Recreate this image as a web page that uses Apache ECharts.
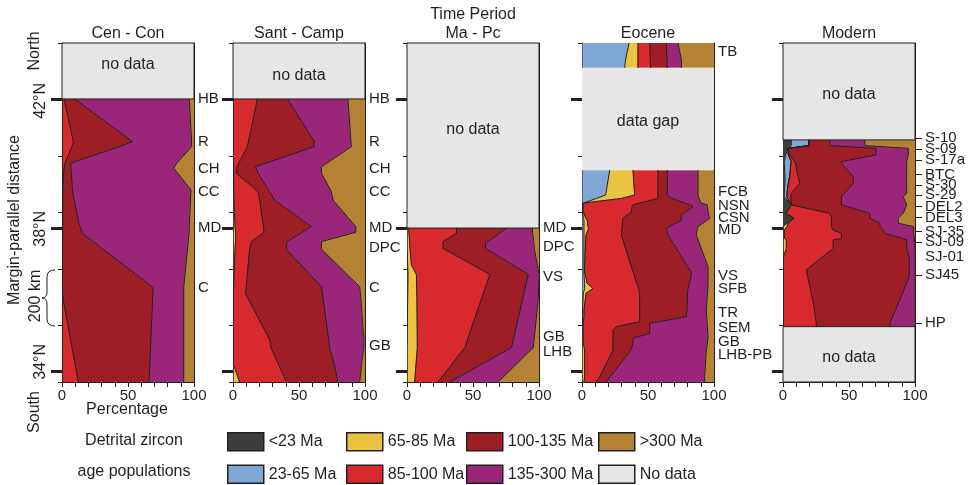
<!DOCTYPE html>
<html>
<head>
<meta charset="utf-8">
<title>Detrital zircon age populations along the margin</title>
<script src="https://cdn.jsdelivr.net/npm/echarts@6/dist/echarts.min.js"></script>
<style>
  html, body { margin: 0; padding: 0; background: #ffffff; }
  #chart { width: 969px; height: 485px; }
</style>
</head>
<body>
<div id="chart"></div>
<script>
// Age populations, youngest first, and their fill colours.
const populations = ['<23 Ma', '23-65 Ma', '65-85 Ma', '85-100 Ma', '100-135 Ma', '135-300 Ma', '>300 Ma'];
const populationColors = ['#3d3d3d', '#7fa8d5', '#ebc343', '#d8292e', '#9d1e25', '#9a2679', '#b38234'];
const noDataColor = '#e6e6e6';

// Each row: [margin-parallel distance (km, from the south end),
//            cumulative % at the right edge of <23, 23-65, 65-85, 85-100, 100-135, 135-300 Ma].
// The >300 Ma band fills the rest up to 100 %.
const cenConRows = [
  [1002, 0, 0, 0, 1.5, 9.6, 96.4],
  [851, 0, 0, 0, 8.6, 53.4, 98.2],
  [833, 0, 0, 0, 7.5, 43.3, 98.2],
  [775, 0, 0, 0, 2.3, 6.6, 87.0],
  [757, 0, 0, 0, 1.5, 6.8, 84.6],
  [680, 0, 0, 0, 0.5, 7.9, 97.7],
  [656, 0, 0, 0, 0.5, 8.6, 97.5],
  [562, 0, 0, 0, 0.5, 12.9, 96.5],
  [528, 0, 0, 0, 0.5, 15.0, 96.3],
  [334, 0, 0, 0, 0, 69.1, 92.2],
  [315, 0, 0, 0, 0, 68.8, 92.2],
  [0, 0, 0, 0, 12.4, 66.0, 92.2]
];

const santCampRows = [
  [1002, 0, 0, 0, 18.5, 41.2, 87.1],
  [853, 0, 0, 0, 11.8, 61.4, 89.3],
  [833, 0, 0, 0, 10.9, 61.4, 89.7],
  [762, 0, 0, 0, 3.0, 17.0, 67.0],
  [739, 0, 0, 0.5, 2.5, 19.0, 67.0],
  [674, 0, 0, 0.5, 19.0, 27.6, 74.5],
  [644, 0, 0, 0.8, 20.2, 31.6, 75.8],
  [550, 0, 0, 1.5, 23.0, 59.4, 93.0],
  [530, 0, 0, 2.0, 23.5, 52.6, 93.0],
  [497, 0, 0, 2.0, 13.9, 41.0, 67.0],
  [470, 0, 0, 1.5, 12.6, 40.4, 67.0],
  [337, 0, 0, 0.5, 10.0, 67.0, 96.0],
  [314, 0, 0, 0, 9.4, 67.7, 96.5],
  [149, 0, 0, 0, 27.8, 72.5, 99.2],
  [119, 0, 0, 0, 29.0, 73.2, 99.0],
  [67, 0, 0, 0, 34.0, 76.5, 97.5],
  [0, 0, 0, 5.0, 40.4, 79.5, 96.0]
];

const maPcRows = [
  [545, 0, 0, 1.3, 37.5, 75.4, 94.9],
  [526, 0, 0, 1.5, 37.5, 70.1, 95.2],
  [497, 0, 0, 2.0, 27.3, 61.3, 96.0],
  [491, 0, 0, 2.0, 27.3, 59.5, 96.0],
  [473, 0, 0, 2.3, 27.3, 59.5, 96.5],
  [414, 0, 0.5, 3.3, 50.1, 80.3, 98.7],
  [381, 0, 0.8, 7.1, 62.8, 91.9, 100],
  [296, 0, 0.5, 7.5, 56.5, 87.7, 99.5],
  [122, 0, 0, 7.8, 43.8, 79.2, 95.7],
  [0, 0, 0, 5.8, 23.5, 32.4, 69.1]
];

// Eocene: a short northern stretch (TB) above the data gap, then the main record.
const eoceneNorthRows = [
  [1200, 0, 35.6, 42.4, 51.3, 63.9, 72.7],
  [1140, 0, 33.0, 42.4, 51.8, 64.3, 75.3],
  [1112, 0, 32.3, 42.4, 52.0, 64.6, 75.3]
];

const eoceneRows = [
  [750, 0, 21.0, 38.6, 57.6, 64.6, 87.9],
  [662, 0, 17.9, 39.9, 57.6, 64.6, 87.9],
  [650, 0, 11.0, 30.0, 57.6, 68.0, 88.5],
  [633, 0, 0.8, 0.8, 43.4, 78.3, 90.4],
  [627, 0, 0.5, 0.8, 38.6, 81.6, 94.9],
  [621, 0, 0.5, 0.8, 38.0, 84.1, 95.1],
  [603, 0, 0.5, 1.0, 37.4, 78.8, 95.5],
  [591, 0, 0.8, 2.0, 34.2, 75.3, 96.0],
  [579, 0, 1.0, 3.0, 31.1, 75.3, 96.7],
  [573, 0, 1.5, 4.0, 30.8, 75.3, 95.0],
  [550, 0, 1.5, 4.5, 30.3, 66.2, 87.9],
  [544, 0, 1.5, 5.0, 30.2, 63.9, 87.5],
  [520, 0, 1.5, 3.0, 29.8, 65.2, 86.6],
  [408, 0, 1.5, 2.0, 37.4, 80.0, 95.5],
  [390, 0, 1.5, 2.0, 38.6, 82.5, 95.5],
  [379, 0, 1.5, 2.5, 39.5, 82.8, 95.5],
  [349, 0, 2.0, 4.0, 41.5, 81.5, 95.5],
  [331, 0, 2.0, 8.3, 43.0, 80.3, 95.3],
  [314, 0, 1.0, 3.0, 43.7, 80.0, 95.0],
  [255, 0, 0.5, 1.5, 43.7, 79.5, 94.2],
  [231, 0, 0.5, 1.5, 43.7, 79.0, 94.5],
  [213, 0, 0.5, 1.0, 43.7, 58.0, 94.8],
  [208, 0, 0.5, 1.0, 37.8, 51.3, 94.8],
  [196, 0, 0, 1.0, 26.0, 51.3, 95.0],
  [184, 0, 0, 1.0, 23.5, 51.3, 95.2],
  [172, 0, 0, 1.0, 23.5, 51.3, 95.4],
  [155, 0, 0, 1.0, 23.5, 38.6, 95.5],
  [137, 0, 0, 1.0, 23.5, 38.6, 95.0],
  [113, 0, 0, 2.0, 23.5, 37.1, 94.2],
  [19, 0, 0, 2.0, 13.5, 21.4, 92.9],
  [0, 0, 0, 1.5, 10.9, 18.4, 92.9]
];

const modernRows = [
  [857, 6.3, 19.7, 19.7, 19.7, 35.4, 62.0],
  [837, 6.3, 19.7, 19.7, 19.7, 35.4, 62.0],
  [827, 3.8, 3.8, 3.8, 3.8, 70.4, 94.9],
  [804, 2.0, 4.0, 4.0, 5.0, 70.4, 94.9],
  [780, 1.0, 6.3, 6.3, 8.9, 44.3, 93.7],
  [774, 1.0, 6.0, 6.0, 9.5, 44.3, 93.7],
  [727, 1.5, 5.0, 5.0, 11.4, 53.2, 93.7],
  [703, 1.5, 4.0, 4.0, 12.7, 53.2, 93.7],
  [668, 1.0, 3.0, 3.0, 6.3, 46.6, 93.7],
  [656, 1.0, 3.0, 3.0, 6.0, 44.3, 91.1],
  [627, 6.3, 6.3, 6.3, 6.3, 44.3, 93.7],
  [597, 2.0, 2.0, 2.0, 35.4, 65.8, 91.1],
  [580, 8.0, 8.0, 8.0, 36.7, 65.8, 87.3],
  [562, 3.0, 3.0, 4.0, 36.7, 73.4, 87.3],
  [550, 0, 0, 3.0, 36.7, 73.4, 99.0],
  [538, 0, 0, 1.0, 38.0, 75.9, 99.0],
  [526, 0, 0, 1.0, 44.3, 77.2, 99.0],
  [509, 0, 0, 1.0, 44.3, 90.0, 99.5],
  [503, 0, 0, 2.5, 38.0, 93.7, 99.5],
  [473, 0, 0, 2.5, 38.0, 93.7, 100],
  [438, 0, 0, 0, 28.6, 95.7, 100],
  [397, 0, 0, 0, 17.7, 95.7, 100],
  [373, 0, 0, 0, 18.7, 95.7, 100],
  [284, 0, 0, 0, 22.8, 87.8, 100],
  [208, 0, 0, 0, 25.3, 81.0, 100],
  [196, 0, 0, 0, 25.3, 81.0, 100]
];

// Stretches without samples: [from km, to km, caption position km, caption].
const cenConGaps = [[1002, 1200, 1122, 'no data']];
const santCampGaps = [[1002, 1200, 1083, 'no data']];
const maPcGaps = [[545, 1200, 892, 'no data']];
const eoceneGaps = [[750, 1112, 922, 'data gap']];
const modernGaps = [[857, 1200, 1016, 'no data'], [0, 196, 88, 'no data']];

// Sample localities written at the right edge of each column.
const cenConSites = ['HB', 'R', 'CH', 'CC', 'MD', 'C'];
const cenConSiteKm = [1002, 851, 754, 672, 546, 332];
const santCampSites = ['HB', 'R', 'CH', 'CC', 'MD', 'DPC', 'C', 'GB'];
const santCampSiteKm = [1002, 851, 754, 672, 546, 475, 332, 128];
const maPcSites = ['MD', 'DPC', 'VS', 'GB', 'LHB'];
const maPcSiteKm = [544, 477, 373, 160, 105];
const eoceneSites = ['TB', 'FCB', 'NSN', 'CSN', 'MD', 'VS', 'SFB', 'TR', 'SEM', 'GB', 'LHB-PB'];
const eoceneSiteKm = [1169, 674, 623, 580, 538, 375, 328, 243, 190, 143, 96];
const modernSites = ['S-10', 'S-09', 'S-17a', 'BTC', 'S-30', 'S-29', 'DEL2', 'DEL3', 'SJ-35', 'SJ-09', 'SJ-01', 'SJ45', 'HP'];
const modernSiteKm = [863, 825, 786, 735, 697, 662, 621, 582, 532, 495, 444, 379, 208];

const panelTitles = ['Cen - Con', 'Sant - Camp', 'Time Period\nMa - Pc', 'Eocene', 'Modern'];

// Latitude marks on the distance axis.
const latitudeKm = [39, 545, 1002];
const latitudeNames = ['34°N', '38°N', '42°N'];
const latitudeLabelKm = [71, 542, 995];

const distanceTicksKm = 200;
const distanceMaxKm = 1200;
const percentTicks = [0, 50, 100];

const FONT = 'Liberation Sans, Arial, Helvetica, sans-serif';
const INK = '#231f20';

const panels = [
  { segments: [cenConRows], gaps: cenConGaps, sites: cenConSites, siteKm: cenConSiteKm, left: 62, outlineGaps: true },
  { segments: [santCampRows], gaps: santCampGaps, sites: santCampSites, siteKm: santCampSiteKm, left: 233, outlineGaps: true },
  { segments: [maPcRows], gaps: maPcGaps, sites: maPcSites, siteKm: maPcSiteKm, left: 407, outlineGaps: true },
  { segments: [eoceneNorthRows, eoceneRows], gaps: eoceneGaps, sites: eoceneSites, siteKm: eoceneSiteKm, left: 582, outlineGaps: false },
  { segments: [modernRows], gaps: modernGaps, sites: modernSites, siteKm: modernSiteKm, left: 783, outlineGaps: true, leaders: true }
];
const PANEL_W = 132, PANEL_TOP = 43, PANEL_H = 339;

const grids = [], xAxes = [], yAxes = [], series = [];

function lo(row, p) { return p === 0 ? 0 : row[p]; }
function hi(row, p) { return p === populations.length - 1 ? 100 : row[p + 1]; }

panels.forEach((panel, i) => {
  grids.push({ left: panel.left, top: PANEL_TOP, width: PANEL_W, height: PANEL_H });
  const xi = xAxes.length, yi = yAxes.length;

  xAxes.push({
    gridIndex: i, type: 'value', min: 0, max: 100, interval: 10, position: 'bottom',
    axisLine: { show: true, lineStyle: { color: INK, width: 1 } },
    axisTick: { show: true, length: 5, lineStyle: { color: INK, width: 1 } },
    axisLabel: {
      show: true, margin: 6, color: INK, fontSize: 15, fontFamily: FONT,
      formatter: v => (percentTicks.indexOf(v) >= 0 ? String(v) : '')
    },
    splitLine: { show: false }
  });
  xAxes.push({
    gridIndex: i, type: 'value', min: 0, max: 100, position: 'top',
    axisLine: { show: true, onZero: false, lineStyle: { color: INK, width: 1 } },
    axisTick: { show: false }, axisLabel: { show: false }, splitLine: { show: false }
  });

  // distance axis with thin ticks every 200 km
  yAxes.push({
    gridIndex: i, type: 'value', min: 0, max: distanceMaxKm, interval: distanceTicksKm, position: 'left',
    axisLine: { show: true, onZero: false, lineStyle: { color: INK, width: 1 } },
    axisTick: { show: true, length: 4, lineStyle: { color: INK, width: 1 } },
    axisLabel: { show: false }, splitLine: { show: false }
  });
  // heavy latitude ticks
  yAxes.push({
    gridIndex: i, type: 'value', min: 0, max: distanceMaxKm, position: 'left',
    axisLine: { show: false },
    axisTick: { show: true, length: 11, customValues: latitudeKm, lineStyle: { color: INK, width: 3 } },
    axisLabel: { show: false }, splitLine: { show: false }
  });
  // sample locality names on the right edge; the axis ends carry blank labels
  const sites = panel.sites, siteKm = panel.siteKm;
  yAxes.push({
    gridIndex: i, type: 'value', min: 0, max: distanceMaxKm, position: 'right',
    axisLine: { show: true, onZero: false, lineStyle: { color: INK, width: 1 } },
    axisTick: panel.leaders
      ? { show: true, length: 7, customValues: siteKm.filter((_, k) => sites[k] !== 'SJ-01'), lineStyle: { color: INK, width: 1 } }
      : { show: false },
    axisLabel: {
      show: true, customValues: [0].concat(siteKm.slice().reverse(), [distanceMaxKm]),
      margin: panel.leaders ? 10 : 4,
      showMinLabel: true, showMaxLabel: true, hideOverlap: false,
      color: INK, fontSize: 15, fontFamily: FONT, lineHeight: 15,
      formatter: v => { const k = siteKm.indexOf(v); return k >= 0 ? sites[k] : ''; }
    },
    splitLine: { show: false }
  });

  // coloured bands, one series per age population
  panel.segments.forEach(rows => {
    populations.forEach((name, p) => {
      const color = populationColors[p];
      series.push({
        type: 'custom', name, xAxisIndex: xi, yAxisIndex: yi, z: 2, silent: true,
        itemStyle: { color, borderColor: INK, borderWidth: 1 },
        data: [[0, 0]], encode: { x: 0, y: 1 }, clip: true,
        renderItem: (params, api) => {
          const right = rows.map(r => api.coord([hi(r, p), r[0]]));
          const left = rows.map(r => api.coord([lo(r, p), r[0]])).reverse();
          return {
            type: 'polygon',
            shape: { points: right.concat(left) },
            style: { fill: color, stroke: color, lineWidth: 0.6 }
          };
        }
      });
    });
    // dark boundary lines between the bands
    series.push({
      type: 'custom', name: 'boundaries', xAxisIndex: xi, yAxisIndex: yi, z: 4, silent: true,
      data: [[0, 0]], encode: { x: 0, y: 1 }, clip: true,
      renderItem: (params, api) => ({
        type: 'group',
        children: populations.slice(0, -1).map((_, p) => ({
          type: 'polyline',
          shape: { points: rows.map(r => api.coord([hi(r, p), r[0]])) },
          style: { fill: null, stroke: INK, lineWidth: 1 }
        }))
      })
    });
  });

  // stretches without samples
  series.push({
    type: 'custom', name: 'No data', xAxisIndex: xi, yAxisIndex: yi, z: 3, silent: true,
    itemStyle: { color: noDataColor, borderColor: INK, borderWidth: 1 },
    data: [[0, 0]], encode: { x: 0, y: 1 }, clip: false,
    renderItem: (params, api) => ({
      type: 'group',
      children: panel.gaps.flatMap(([kmLo, kmHi, kmText, caption]) => {
        const tl = api.coord([0, kmHi]), br = api.coord([100, kmLo]), mid = api.coord([50, kmText]);
        return [
          {
            type: 'rect',
            shape: { x: tl[0], y: tl[1], width: br[0] - tl[0], height: br[1] - tl[1] },
            style: { fill: noDataColor, stroke: panel.outlineGaps ? INK : null, lineWidth: 1 }
          },
          {
            type: 'text', x: mid[0], y: mid[1],
            style: { text: caption, fill: INK, fontSize: 16, fontFamily: FONT, align: 'center', verticalAlign: 'middle' }
          }
        ];
      })
    })
  });
});

// column titles
const titles = panelTitles.map((t, i) => ({
  text: t, left: panels[i].left + PANEL_W / 2, top: t.indexOf('\n') >= 0 ? 5 : 24, textAlign: 'center',
  padding: 0,
  textStyle: { color: INK, fontSize: 16, fontWeight: 'normal', fontFamily: FONT, lineHeight: 19 }
}));

function plainText(text, x, y, rotated) {
  return {
    type: 'text', x, y, rotation: rotated ? Math.PI / 2 : 0,
    style: { text, fill: INK, fontSize: 16, fontFamily: FONT, align: 'center', verticalAlign: 'middle' }
  };
}
function stroke(el) {
  el.style = { fill: null, stroke: INK, lineWidth: 1 };
  return el;
}

const graphic = [
  plainText('North', 35, 51, true),
  plainText('South', 35, 412, true),
  plainText('Margin-parallel distance', 15, 220, true),
  plainText('200 km', 36, 296, true),
  // curly brace spanning one 200 km step
  stroke({ type: 'bezierCurve', shape: { x1: 55, y1: 270, cpx1: 47, cpy1: 270, x2: 47, y2: 277 } }),
  stroke({ type: 'line', shape: { x1: 47, y1: 277, x2: 47, y2: 292 } }),
  stroke({ type: 'bezierCurve', shape: { x1: 47, y1: 292, cpx1: 47, cpy1: 298, x2: 42, y2: 298 } }),
  stroke({ type: 'bezierCurve', shape: { x1: 42, y1: 298, cpx1: 47, cpy1: 298, x2: 47, y2: 304 } }),
  stroke({ type: 'line', shape: { x1: 47, y1: 304, x2: 47, y2: 319 } }),
  stroke({ type: 'bezierCurve', shape: { x1: 47, y1: 319, cpx1: 47, cpy1: 326, x2: 55, y2: 326 } }),
  plainText('Percentage', 127, 410, false),
  plainText('Detrital zircon', 134, 441, false),
  plainText('age populations', 134, 472, false)
];
// latitude names beside the heavy ticks of the first column
latitudeNames.forEach((name, k) => {
  const t = plainText(name, 41, 0, true);
  t.id = 'lat' + k;
  graphic.push(t);
});

const legendColumns = [
  ['<23 Ma', '23-65 Ma'],
  ['65-85 Ma', '85-100 Ma'],
  ['100-135 Ma', '135-300 Ma'],
  ['>300 Ma', 'No data']
];
const legendLefts = [227, 346, 466, 598];
const legend = legendColumns.map((names, i) => ({
  data: names.map(n => ({ name: n, icon: 'rect' })),
  orient: 'vertical', left: legendLefts[i], top: 432, padding: 0,
  itemWidth: 36, itemHeight: 18, itemGap: 13, selectedMode: false,
  itemStyle: { borderColor: INK, borderWidth: 1.5 },
  textStyle: { color: INK, fontSize: 16, fontFamily: FONT }
}));

const chart = echarts.init(document.getElementById('chart'), null, { renderer: 'canvas' });
chart.setOption({
  animation: false,
  backgroundColor: '#ffffff',
  title: titles,
  legend,
  grid: grids,
  xAxis: xAxes,
  yAxis: yAxes,
  series,
  graphic
});

// place the latitude names through the first column's distance scale
chart.setOption({
  graphic: latitudeNames.map((name, k) => ({
    id: 'lat' + k,
    y: chart.convertToPixel({ gridIndex: 0 }, [0, latitudeLabelKm[k]])[1]
  }))
});
</script>
</body>
</html>
